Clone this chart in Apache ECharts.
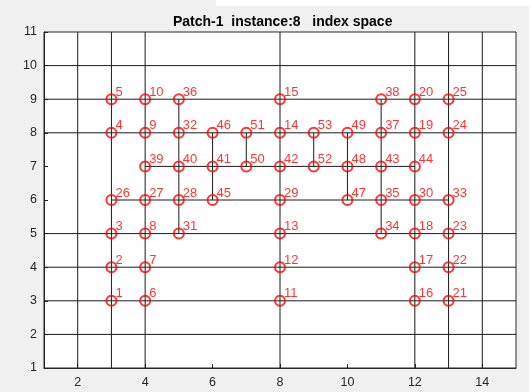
<!DOCTYPE html>
<html>
<head>
<meta charset="utf-8">
<script src="https://cdn.jsdelivr.net/npm/echarts@6/dist/echarts.min.js"></script>
<style>
html,body{margin:0;padding:0;background:#f0f0f0;}
#chart{width:531px;height:392px;}
</style>
</head>
<body>
<div id="chart"></div>
<script>
// Node index space data
const pointIds = [1,2,3,26,4,5, 6,7,8,27,39,9,10, 31,28,40,32,36, 45,41,46, 50,51, 11,12,13,29,42,14,15, 52,53, 47,48,49, 34,35,43,37,38, 16,17,18,30,44,19,20, 21,22,23,33,24,25];
const pointX   = [3,3,3,3,3,3, 4,4,4,4,4,4,4, 5,5,5,5,5, 6,6,6, 7,7, 8,8,8,8,8,8,8, 9,9, 10,10,10, 11,11,11,11,11, 12,12,12,12,12,12,12, 13,13,13,13,13,13];
const pointY   = [3,4,5,6,8,9, 3,4,5,6,7,8,9, 5,6,7,8,9, 6,7,8, 7,8, 3,4,5,6,7,8,9, 7,8, 6,7,8, 5,6,7,8,9, 3,4,5,6,7,8,9, 3,4,5,6,8,9];

// mesh lines
const fullHLines = [2,3,4,5,8,9,10];          // y values spanning the whole axis
const fullVLines = [2,3,4,8,12,13,14];        // x values spanning the whole axis
const partialH = [[7,4,12],[6,3,13]];         // [y, xStart, xEnd]
const partialV = [[5,5,9],[6,6,8],[7,7,8],[9,7,8],[10,6,8],[11,5,9]]; // [x, yStart, yEnd]

const xMin = 1, xMax = 15, yMin = 1, yMax = 11;
const xTicks = [2,4,6,8,10,12,14];
const yTicks = [1,2,3,4,5,6,7,8,9,10,11];

const titleText = 'Patch-1  instance:8   index space';

// build segment data with null breaks
const segData = [];
fullHLines.forEach(y => { segData.push([xMin,y],[xMax,y],[null,null]); });
fullVLines.forEach(x => { segData.push([x,yMin],[x,yMax],[null,null]); });
partialH.forEach(s => { segData.push([s[1],s[0]],[s[2],s[0]],[null,null]); });
partialV.forEach(s => { segData.push([s[0],s[1]],[s[0],s[2]],[null,null]); });

const pts = pointIds.map((id,i) => ({value:[pointX[i],pointY[i]], name:String(id)}));

const chart = echarts.init(document.getElementById('chart'), null, {renderer:'canvas'});
const axisColor = '#262626';
const font = 'Liberation Sans, Arial, sans-serif';
chart.setOption({
  backgroundColor: '#f0f0f0',
  animation: false,
  title: {
    text: titleText,
    left: 168, top: 10,
    textStyle: {fontFamily:font, fontSize: 14, fontWeight:'bold', color:'#000'}
  },
  graphic: [
    {type:'rect', shape:{x:216,y:0,width:315,height:6}, style:{fill:'#ffffff'}, z:-1},
    {type:'rect', shape:{x:529,y:0,width:2,height:392}, style:{fill:'#ffffff'}, z:-1}
  ],
  grid: {left:44, right:15, top:32, bottom:24, show:true, backgroundColor:'#ffffff', borderColor:axisColor, borderWidth:1},
  xAxis: {
    type:'value', min:xMin, max:xMax,
    axisLine:{show:true, lineStyle:{color:axisColor}},
    axisTick:{show:true, inside:true, length:4, customValues:xTicks, lineStyle:{color:axisColor}},
    axisLabel:{customValues:xTicks, color:axisColor, fontSize:12.5, margin:8, fontFamily:font},
    splitLine:{show:false}
  },
  yAxis: {
    type:'value', min:yMin, max:yMax,
    axisLine:{show:true, lineStyle:{color:axisColor}},
    axisTick:{show:true, inside:true, length:4, customValues:yTicks, lineStyle:{color:axisColor}},
    axisLabel:{customValues:yTicks, color:axisColor, fontSize:12.5, margin:7, fontFamily:font},
    splitLine:{show:false}
  },
  series: [
    {
      type:'line', data:segData, connectNulls:false, showSymbol:false, symbol:'none',
      lineStyle:{color:'#1a1a1a', width:1}, z:2, silent:true
    },
    {
      type:'scatter', data:pts, symbol:'circle', symbolSize:10, z:3,
      itemStyle:{color:'rgba(0,0,0,0)', borderColor:'#ff0000', borderWidth:2},
      label:{show:true, position:'right', distance:-2, offset:[0,-7], formatter:p=>p.name,
             color:'#ff0000', fontSize:13, fontFamily:font}
    }
  ]
});
</script>
</body>
</html>
